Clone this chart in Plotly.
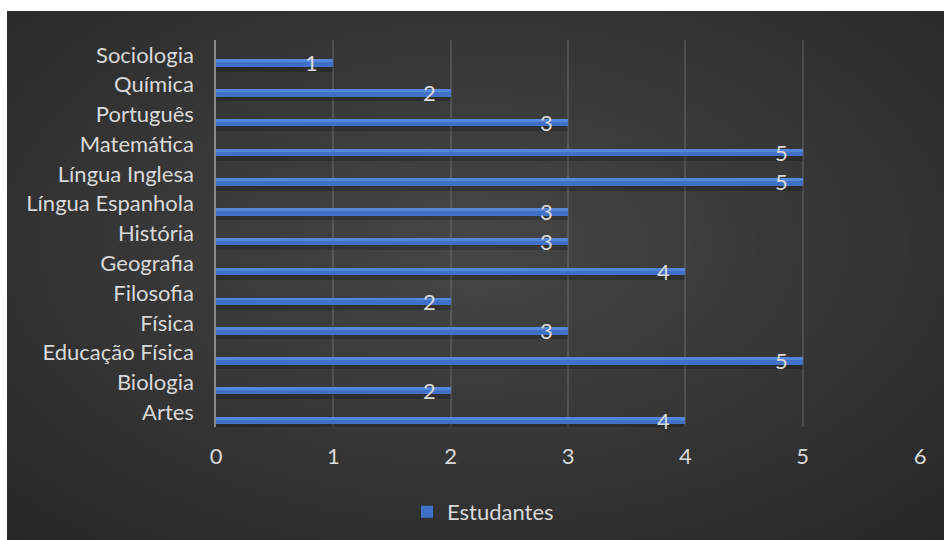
import plotly.graph_objects as go

# Subjects (bottom to top) and number of students per subject
disciplinas = [
    "Artes", "Biologia", "Educação Física", "Física", "Filosofia",
    "Geografia", "História", "Língua Espanhola", "Língua Inglesa",
    "Matemática", "Português", "Química", "Sociologia",
]
estudantes = [4, 2, 5, 3, 2, 4, 3, 3, 5, 5, 3, 2, 1]
serie_nome = "Estudantes"
eixo_x_ticks = [0, 1, 2, 3, 4, 5, 6]

FONT = "Lato"
TXT = "#d9d9d9"
BLUE = "#4170c8"
BLUE_HI = "#5486da"

fig = go.Figure()

# soft drop shadow beneath each bar
fig.add_trace(go.Bar(
    x=estudantes, y=disciplinas, orientation="h",
    width=0.24, offset=-0.56,
    marker=dict(color="rgba(0,0,0,0.2)", line=dict(width=0)),
    showlegend=False, hoverinfo="skip",
))
# main bars
fig.add_trace(go.Bar(
    x=estudantes, y=disciplinas, orientation="h", name=serie_nome,
    width=0.25, offset=-0.40,
    marker=dict(color=BLUE, line=dict(width=0)),
))
# lighter upper band for the bevelled look
fig.add_trace(go.Bar(
    x=estudantes, y=disciplinas, orientation="h",
    width=0.10, offset=-0.25,
    marker=dict(color=BLUE_HI, line=dict(width=0)),
    showlegend=False, hoverinfo="skip",
))

# value labels at the end of each bar
annotations = []
for cat, val in zip(disciplinas, estudantes):
    annotations.append(dict(
        x=val, y=cat, xref="x", yref="y", text=str(val), showarrow=False,
        xanchor="right", yanchor="middle", xshift=-13, yshift=-8,
        font=dict(family=FONT, size=22, color=TXT),
    ))

# dark radial background: base rectangle plus stacked translucent ellipses
shapes = [dict(type="rect", xref="paper", yref="paper", x0=0, x1=1, y0=0, y1=1,
               fillcolor="#262626", line=dict(width=0), layer="below")]
cx, cy = 0.50, 0.56
steps = 32
for i in range(steps):
    r = 0.74 * (1 - i / steps)
    shapes.append(dict(
        type="circle", xref="paper", yref="paper",
        x0=cx - r, x1=cx + r, y0=cy - r * 1.05, y1=cy + r * 1.05,
        fillcolor="rgba(255,255,255,0.0068)", line=dict(width=0), layer="below",
    ))

fig.update_layout(
    width=944, height=540,
    margin=dict(l=7, r=0, t=11, b=0, autoexpand=False),
    paper_bgcolor="white",
    plot_bgcolor="rgba(0,0,0,0)",
    barmode="overlay",
    bargap=0,
    font=dict(family=FONT, size=22, color=TXT),
    shapes=shapes,
    annotations=annotations,
    showlegend=True,
    legend=dict(
        orientation="h", x=0.508, xanchor="center", y=0.053, yanchor="middle",
        font=dict(family=FONT, size=22, color=TXT),
        bgcolor="rgba(0,0,0,0)",
    ),
    xaxis=dict(
        domain=[0.2231, 0.9744],
        range=[0, 6], tickvals=eixo_x_ticks,
        showgrid=True, gridcolor="rgba(255,255,255,0.12)", gridwidth=1.5,
        zeroline=False, showline=False, ticks="",
        ticklabelstandoff=14, automargin=False,
        tickfont=dict(family=FONT, size=22, color=TXT),
        fixedrange=True,
    ),
    yaxis=dict(
        domain=[0.2136, 0.9452],
        type="category", categoryorder="array", categoryarray=disciplinas,
        range=[-0.5, len(disciplinas) - 0.5],
        showgrid=False, zeroline=False,
        showline=True, linecolor="#8a8a8a", linewidth=1.5,
        ticks="", ticklabelstandoff=16, automargin=False,
        tickfont=dict(family=FONT, size=22, color=TXT),
        fixedrange=True,
    ),
)

fig.write_html("out.html")
